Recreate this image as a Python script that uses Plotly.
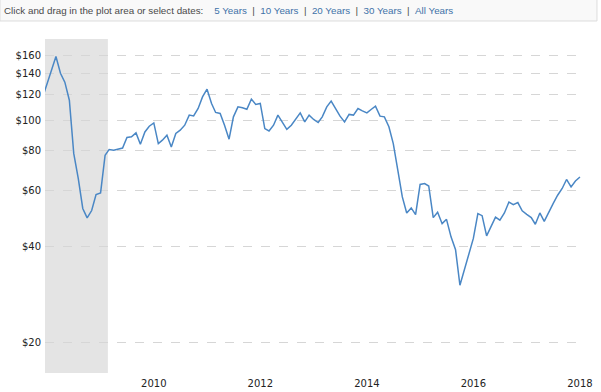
import pandas as pd
import plotly.graph_objects as go

# Monthly values (USD, log scale)
prices = [
    118, 130, 144, 158.5, 140.4, 131.6, 115.5, 78.6, 65.6, 52.8,
    49.3, 52.0, 58.4, 59.1, 77.6, 80.9, 80.5, 81.1, 81.7, 88.2,
    88.6, 91.2, 84.0, 91.8, 95.7, 98.0, 84.4, 86.5, 89.7, 82.4,
    90.8, 93.0, 96.4, 103.7, 103.1, 108.8, 118.3, 125.1, 112.8, 105.7,
    104.9, 96.4, 87.1, 102.4, 110.1, 109.3, 108.2, 116.4, 112.0, 112.8,
    94.1, 92.5, 96.4, 103.7, 98.7, 93.5, 96.4, 100.5, 105.4, 98.7,
    103.7, 100.5, 98.3, 102.4, 110.1, 114.7, 108.8, 102.9, 98.7, 104.2,
    103.7, 108.8, 106.9, 105.4, 108.2, 110.6, 102.9, 102.4, 95.3, 84.4,
    69.6, 57.4, 51.1, 53.0, 50.5, 62.8, 63.2, 62.1, 49.4, 51.4,
    47.3, 48.8, 43.0, 39.2, 30.3, 33.8, 37.9, 42.5, 50.9, 50.1,
    43.3, 46.4, 49.6, 48.5, 51.1, 55.3, 54.3, 55.1, 51.9, 50.6,
    49.4, 47.1, 51.1, 48.1, 51.5, 54.7, 58.1, 61.0, 65.1, 61.7,
    64.4, 66.3,
]
dates = pd.date_range("2007-12-01", periods=len(prices), freq="MS")

y_ticks = [20, 40, 60, 80, 100, 120, 140, 160]
y_tick_labels = ["$20", "$40", "$60", "$80", "$100", "$120", "$140", "$160"]
x_ticks = ["2010-01-01", "2012-01-01", "2014-01-01", "2016-01-01", "2018-01-01"]
x_tick_labels = ["2010", "2012", "2014", "2016", "2018"]

recession_start = "2007-12-17"
recession_end = "2009-02-20"

fig = go.Figure()
fig.add_trace(go.Scatter(
    x=dates, y=prices, mode="lines",
    line=dict(color="#4a87c5", width=1.5),
    hoverinfo="x+y", showlegend=False,
))

fig.add_shape(type="rect", xref="x", yref="paper",
              x0=recession_start, x1=recession_end, y0=0, y1=1,
              fillcolor="#e4e4e4", line=dict(width=0), layer="below")

# header bar
fig.add_shape(type="rect", xref="paper", yref="paper",
              x0=-0.0838, x1=1.0279, y0=1.0539, y1=1.13,
              fillcolor="#f9f9f9", line=dict(color="#dddddd", width=1), layer="below")

link = "<span style='color:#3f72a8'>{}</span>"
sep = "\u00a0\u00a0|\u00a0\u00a0"
header = ("Click and drag in the plot area or select dates:\u00a0\u00a0\u00a0\u00a0"
          + link.format("5 Years") + sep + link.format("10 Years") + sep
          + link.format("20 Years") + sep + link.format("30 Years") + sep
          + link.format("All Years"))
fig.add_annotation(text=header, xref="paper", yref="paper",
                   x=-0.0793, y=1.0853, xanchor="left", yanchor="middle",
                   showarrow=False,
                   font=dict(family="Liberation Sans, Arial", size=9.8, color="#4a4a4a"))

fig.update_xaxes(
    range=[recession_start, "2018-01-15"],
    tickvals=x_ticks, ticktext=x_tick_labels,
    showgrid=False, zeroline=False, showline=False, ticks="",
    automargin=False, ticklabelstandoff=3,
    tickfont=dict(family="DejaVu Sans, Verdana", size=10, color="#222222"),
)
fig.update_yaxes(
    type="log",
    range=[1.2058, 2.2548],
    tickvals=y_ticks, ticktext=y_tick_labels,
    showgrid=True, gridcolor="#d6d6d6", griddash="dash", gridwidth=1,
    zeroline=False, showline=False, ticks="",
    automargin=False, ticklabelstandoff=3,
    tickfont=dict(family="DejaVu Sans, Verdana", size=10, color="#222222"),
)
fig.update_layout(
    width=601, height=392,
    margin=dict(l=45, r=19, t=39, b=19),
    paper_bgcolor="white", plot_bgcolor="white",
)
fig.write_html("out.html", config={"displayModeBar": False},
               post_script="document.body.style.margin='0';document.body.style.overflow='hidden';")
